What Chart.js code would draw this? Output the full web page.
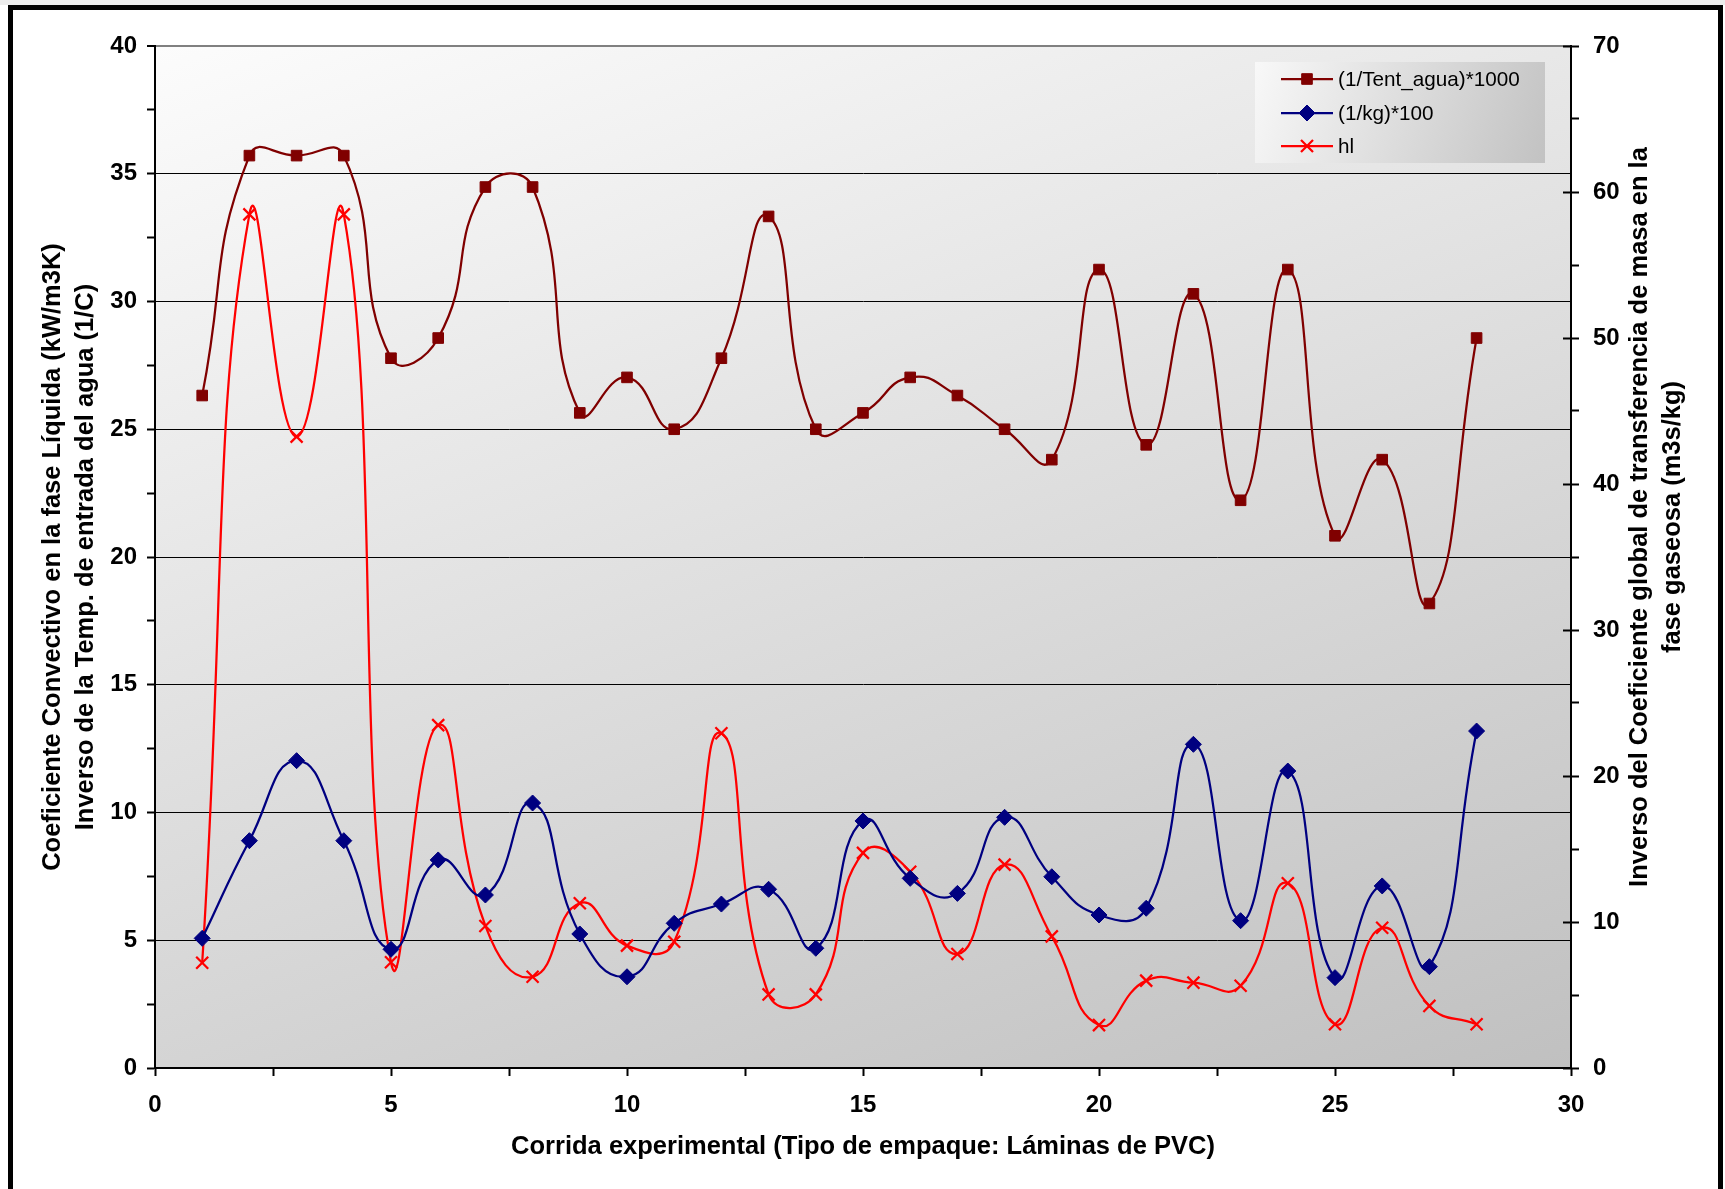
<!DOCTYPE html>
<html>
<head>
<meta charset="utf-8">
<script src="https://cdn.jsdelivr.net/npm/chart.js@4.4.1/dist/chart.umd.min.js"></script>
<style>
  html, body { margin: 0; padding: 0; background: #fff; }
  #graph { display: block; }
</style>
</head>
<body>
<canvas id="graph" width="1725" height="1189"></canvas>
<script>
const runs = [1, 2, 3, 4, 5, 6, 7, 8, 9, 10, 11, 12, 13, 14, 15, 16, 17, 18, 19, 20, 21, 22, 23, 24, 25, 26, 27, 28]

// (1/Tent_agua)*1000, left axis
const invTemp = [26.32, 35.71, 35.71, 35.71, 27.78, 28.57, 34.48, 34.48, 25.64, 27.03, 25.00, 27.78, 33.33, 25.00,
  25.64, 27.03, 26.32, 25.00, 23.81, 31.25, 24.39, 30.30, 22.22, 31.25, 20.83, 23.81, 18.18, 28.57]

// (1/kg)*100, right axis
const invKg = [8.88, 15.57, 21.05, 15.57, 8.13, 14.25, 11.85, 18.15, 9.18, 6.25, 9.91, 11.23, 12.24, 8.20,
  16.92, 12.99, 11.96, 17.17, 13.10, 10.48, 10.94, 22.17, 10.09, 20.34, 6.19, 12.47, 6.94, 23.08]

// hl, left axis
const hl = [4.12, 33.41, 24.71, 33.41, 4.14, 13.42, 5.56, 3.57, 6.45, 4.79, 4.94, 13.10, 2.88, 2.88,
  8.42, 7.68, 4.46, 7.96, 5.15, 1.68, 3.42, 3.34, 3.22, 7.23, 1.71, 5.49, 2.43, 1.71]

const xRange = [0, 30]
const leftRange = [0, 40]
const rightRange = [0, 70]

const xTitle = "Corrida experimental (Tipo de empaque: Láminas de PVC)"
const leftTitle = ["Coeficiente Convectivo en la fase Líquida (kW/m3K)", "Inverso de la Temp. de entrada del agua (1/C)"]
const rightTitle = ["Inverso del Coeficiente global de transferencia de masa en la", "fase gaseosa (m3s/kg)"]

const family = '"Liberation Sans", Arial, sans-serif'
const tickFont = { family, size: 24, weight: "bold" }

const toPoints = vals => runs.map((r, i) => ({ x: r, y: vals[i] }))

const series = [
  { label: "(1/Tent_agua)*1000", data: toPoints(invTemp), color: "#800000", style: "rect", radius: 7.5, pbw: 1, axis: "y", order: 3 },
  { label: "(1/kg)*100", data: toPoints(invKg), color: "#000080", style: "rectRot", radius: 8, pbw: 1, axis: "y1", order: 1 },
  { label: "hl", data: toPoints(hl), color: "#ff0000", style: "crossRot", radius: 8.5, pbw: 2.25, axis: "y", order: 2 }
]

const datasets = series.map(s => ({
  label: s.label,
  data: s.data,
  yAxisID: s.axis,
  order: s.order,
  borderColor: s.color,
  backgroundColor: s.color,
  borderWidth: 2.25,
  tension: 0.5,
  pointStyle: s.style,
  pointRadius: s.radius,
  pointBorderWidth: s.pbw,
  pointBackgroundColor: s.color,
  pointBorderColor: s.color,
  fill: false
}))

const decorations = {
  id: "decorations",
  beforeDraw(chart) {
    const { ctx, chartArea: a, width, height } = chart
    ctx.save()
    ctx.fillStyle = "#fff"
    ctx.fillRect(0, 0, width, height)
    ctx.fillStyle = "#ececec"
    ctx.fillRect(0, 0, width, 5)
    const g = ctx.createLinearGradient(a.left, a.top, a.left + 490, a.top + 1357)
    g.addColorStop(0, "#fcfcfc")
    g.addColorStop(1, "#c0c0c0")
    ctx.fillStyle = g
    ctx.fillRect(a.left, a.top, a.right - a.left, a.bottom - a.top)
    ctx.restore()
  },
  afterDraw(chart) {
    const { ctx, chartArea: a } = chart
    ctx.save()

    // inward half of the major ticks on the right axis
    const r = chart.scales.y1
    ctx.strokeStyle = "#000"
    ctx.lineWidth = 2
    r.ticks.forEach(t => {
      if (t.value % 10 !== 0) return
      const y = Math.round(r.getPixelForValue(t.value)) + 0.5
      ctx.beginPath()
      ctx.moveTo(a.right - 8, y)
      ctx.lineTo(a.right, y)
      ctx.stroke()
    })

    // axis titles
    ctx.fillStyle = "#000"
    ctx.font = "bold 25.5px " + family
    ctx.textAlign = "center"
    ctx.textBaseline = "middle"
    ctx.fillText(xTitle, (a.left + a.right) / 2, 1147)

    const cy = (a.top + a.bottom) / 2
    const vtext = (lines, xs, y) => {
      lines.forEach((line, i) => {
        ctx.save()
        ctx.translate(xs[i], y)
        ctx.rotate(-Math.PI / 2)
        ctx.fillText(line, 0, 0)
        ctx.restore()
      })
    }
    vtext(leftTitle, [53, 86], cy)
    vtext(rightTitle, [1640, 1673], 517)

    // legend
    const lx = 1255, ly = 62, lw = 290, lh = 101
    const lg = ctx.createLinearGradient(lx, ly, lx + lw, ly + lh)
    lg.addColorStop(0, "#f8f8f8")
    lg.addColorStop(1, "#c2c2c2")
    ctx.fillStyle = lg
    ctx.fillRect(lx, ly, lw, lh)
    const rows = [79, 113, 146]
    ctx.font = "20.7px " + family
    ctx.textAlign = "left"
    series.forEach((s, i) => {
      const y = rows[i]
      ctx.strokeStyle = s.color
      ctx.lineWidth = 2.25
      ctx.beginPath()
      ctx.moveTo(1281, y)
      ctx.lineTo(1333, y)
      ctx.stroke()
      ctx.fillStyle = s.color
      ctx.lineWidth = s.pbw
      Chart.helpers.drawPoint(ctx, { pointStyle: s.style, radius: s.radius, rotation: 0, borderWidth: s.pbw }, 1307, y)
      ctx.fillStyle = "#000"
      ctx.fillText(s.label, 1338, y + 1)
    })

    // outer frame
    ctx.strokeStyle = "#000"
    ctx.lineWidth = 5
    ctx.strokeRect(10.5, 7.5, 1710, 1300)
    ctx.restore()
  }
}

const config = {
  type: "line",
  data: { datasets },
  options: {
    responsive: false,
    animation: false,
    devicePixelRatio: 1,
    events: [],
    layout: { padding: { top: 46, left: 0, right: 0, bottom: 0 } },
    plugins: { legend: { display: false }, tooltip: { enabled: false } },
    scales: {
      x: {
        type: "linear",
        min: xRange[0],
        max: xRange[1],
        afterFit: s => { s.height = 121 },
        ticks: {
          stepSize: 2.5, autoSkip: false, maxRotation: 0, padding: 15, color: "#000", font: tickFont,
          callback: v => v % 5 === 0 ? v : ""
        },
        grid: { drawOnChartArea: false, tickLength: 8, tickColor: "#000", tickWidth: 2 },
        border: { color: "#000", width: 2 }
      },
      y: {
        position: "left",
        min: leftRange[0],
        max: leftRange[1],
        afterFit: s => { s.width = 155 },
        ticks: {
          stepSize: 2.5, autoSkip: false, padding: 10, color: "#000", font: tickFont,
          callback: v => v % 5 === 0 ? v : ""
        },
        grid: {
          color: c => c.tick.value === leftRange[1] ? "#808080" : (c.tick.value % 5 === 0 ? "#000" : "rgba(0,0,0,0)"),
          lineWidth: c => c.tick.value === leftRange[1] ? 2 : 1,
          tickLength: 8, tickColor: "#000", tickWidth: 2
        },
        border: { color: "#000", width: 2 }
      },
      y1: {
        position: "right",
        min: rightRange[0],
        max: rightRange[1],
        afterFit: s => { s.width = 154 },
        ticks: {
          stepSize: 5, autoSkip: false, padding: 14, color: "#000", font: tickFont,
          callback: v => v % 10 === 0 ? v : ""
        },
        grid: { drawOnChartArea: false, tickLength: 8, tickColor: "#000", tickWidth: 2 },
        border: { color: "#000", width: 2 }
      }
    }
  },
  plugins: [decorations]
}

const graph = new Chart(document.getElementById("graph").getContext("2d"), config)
</script>
</body>
</html>
